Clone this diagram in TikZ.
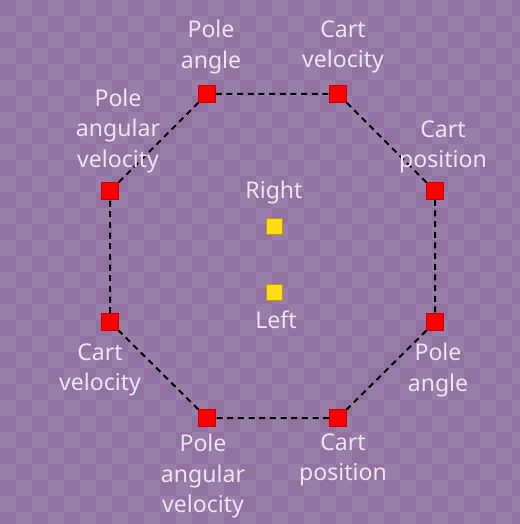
\documentclass[tikz,border=0pt]{standalone}
\usepackage{fontspec}
\setmainfont{Noto Sans}

\definecolor{tileLight}{RGB}{154,126,170}
\definecolor{tileDark}{RGB}{146,114,160}
\definecolor{labelWhite}{RGB}{236,228,240}

\tikzset{every picture/.style={line width=0.75pt}}

\begin{document}
\begin{tikzpicture}[x=0.75pt,y=0.75pt,yscale=-1,xscale=1,
  sensor/.style={fill={rgb, 255:red, 255; green, 0; blue, 0 },draw={rgb, 255:red, 205; green, 0; blue, 0 },line width=0.4pt,minimum size=12.75pt,inner sep=0pt},
  action/.style={fill={rgb, 255:red, 255; green, 221; blue, 20 },draw={rgb, 255:red, 190; green, 150; blue, 20 },line width=0.4pt,minimum size=12pt,inner sep=0pt},
  caption/.style={inner sep=0.75pt,align=center,text=labelWhite,font=\fontsize{17.3}{22.8}\selectfont},
  link/.style={color=black,line width=1.5,dash pattern={on 4.5pt off 3.5pt}}]
\useasboundingbox (0,0) rectangle (520,524);

%Background checkerboard
\fill[tileLight] (0,0) rectangle (520,524);
\begin{scope}
\clip (0,0) rectangle (520,524);
\foreach \x in {0,32,...,512} {
  \foreach \y in {0,32,...,512} {
    \fill[tileDark] (\x,\y) rectangle ++(16,16);
    \fill[tileDark] (\x+16,\y+16) rectangle ++(16,16);
  }
}
\end{scope}

%Input nodes
\node [sensor] (poleAngleT) at (207,94) {};
\node [sensor] (cartVelT) at (338,94) {};
\node [sensor] (cartPosR) at (435,191) {};
\node [sensor] (poleAngleR) at (435,322) {};
\node [sensor] (cartPosB) at (338,418) {};
\node [sensor] (poleAngVelB) at (207,418) {};
\node [sensor] (cartVelL) at (110,322) {};
\node [sensor] (poleAngVelL) at (110,191) {};

%Output nodes
\node [action] (right) at (274,226) {};
\node [action] (left) at (274,292) {};

%Dashed ring
\draw [link] (poleAngleT) -- (cartVelT) -- (cartPosR) -- (poleAngleR) -- (cartPosB) -- (poleAngVelB) -- (cartVelL) -- (poleAngVelL) -- (poleAngleT);

% Text Node
\node [caption] (lblPoleAngleT) at (211,47) {Pole\\angle};
% Text Node
\node [caption] (lblCartVelT) at (343,47) {Cart\\velocity};
% Text Node
\node [caption] (lblCartPosR) at (443,147) {Cart\\position};
% Text Node
\node [caption] (lblPoleAngleR) at (438,370) {Pole\\angle};
% Text Node
\node [caption] (lblCartPosB) at (343,460) {Cart\\position};
% Text Node
\node [caption] (lblPoleAngVelB) at (203,476) {Pole\\angular\\velocity};
% Text Node
\node [caption] (lblCartVelL) at (100,370) {Cart\\velocity};
% Text Node
\node [caption] (lblPoleAngVelL) at (118,131) {Pole\\angular\\velocity};
% Text Node
\node [caption] (lblRight) at (274,193) {Right};
% Text Node
\node [caption] (lblLeft) at (276,320) {Left};

\end{tikzpicture}
\end{document}
